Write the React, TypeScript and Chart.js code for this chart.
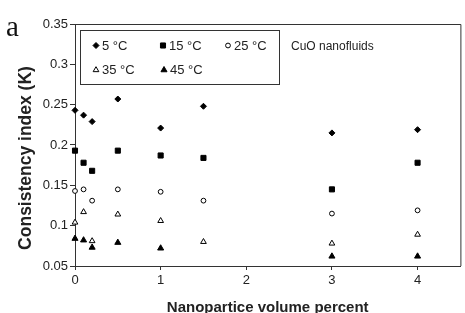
import React, { useEffect, useRef } from 'react';
import { Chart, registerables } from 'chart.js';
import { drawPoint } from 'chart.js/helpers';

Chart.register(...registerables);

const volumePercent = [0, 0.1, 0.2, 0.5, 1, 1.5, 3, 4];
const k5C = [0.243, 0.237, 0.229, 0.257, 0.221, 0.248, 0.215, 0.219];
const k15C = [0.193, 0.178, 0.168, 0.193, 0.187, 0.184, 0.145, 0.178];
const k25C = [0.143, 0.145, 0.131, 0.145, 0.142, 0.131, 0.115, 0.119];
const k35C = [0.104, 0.117, 0.081, 0.114, 0.106, 0.08, 0.078, 0.089];
const k45C = [0.084, 0.082, 0.073, 0.079, 0.072, null, 0.062, 0.062];
const seriesLabels = ['5 °C', '15 °C', '25 °C', '35 °C', '45 °C'];
const yTicks = [0.05, 0.1, 0.15, 0.2, 0.25, 0.3, 0.35];
const yTickLabels = ['0.05', '0.1', '0.15', '0.2', '0.25', '0.3', '0.35'];
const xTicks = [0, 1, 2, 3, 4];
const xTickLabels = ['0', '1', '2', '3', '4'];
const panelLetter = 'a';
const annotation = 'CuO nanofluids';
const xTitle = 'Nanopartice volume percent';
const yTitle = 'Consistency index (K)';

const seriesValues = [k5C, k15C, k25C, k35C, k45C];
const seriesStyles = [
  { pointStyle: 'rectRot', radius: 3, fill: '#000' },
  { pointStyle: 'rect', radius: 3.6, fill: '#000' },
  { pointStyle: 'circle', radius: 2.4, fill: '#fff' },
  { pointStyle: 'triangle', radius: 3.3, fill: '#fff' },
  { pointStyle: 'triangle', radius: 3.5, fill: '#000' },
];
// legend layout: [x of marker, row]
const legendSlots = [
  [96, 0],
  [163, 0],
  [228, 0],
  [96, 1],
  [164, 1],
];

const FONT = '"Liberation Sans", Arial, sans-serif';
const INK = '#222';

const decorPlugin = {
  id: 'decor',
  afterDraw(chart: any) {
    const { ctx, chartArea } = chart;
    ctx.save();
    // frame top & right
    ctx.strokeStyle = '#333';
    ctx.lineWidth = 1;
    ctx.beginPath();
    ctx.moveTo(chartArea.left, chartArea.top + 0.5);
    ctx.lineTo(chartArea.right + 0.5, chartArea.top + 0.5);
    ctx.lineTo(chartArea.right + 0.5, chartArea.bottom);
    ctx.stroke();

    // legend box
    ctx.strokeRect(80.5, 30.5, 199, 54);
    const rowsY = [45.5, 70];
    chart.data.datasets.forEach((ds: any, i: number) => {
      const [mx, row] = legendSlots[i];
      const y = rowsY[row];
      ctx.save();
      ctx.fillStyle = ds.pointBackgroundColor;
      ctx.strokeStyle = '#000';
      drawPoint(ctx, { pointStyle: ds.pointStyle, radius: ds.pointRadius, rotation: 0, borderWidth: 1 }, mx, y);
      ctx.restore();
      ctx.fillStyle = INK;
      ctx.font = `13px ${FONT}`;
      ctx.textAlign = 'left';
      ctx.textBaseline = 'middle';
      ctx.fillText(ds.label, mx + 6, y + 0.5);
    });

    ctx.fillStyle = INK;
    ctx.font = `12px ${FONT}`;
    ctx.textAlign = 'left';
    ctx.textBaseline = 'middle';
    ctx.fillText(annotation, 291, 46.5);

    // panel letter
    ctx.fillStyle = '#111';
    ctx.font = `29px "Liberation Serif", "Times New Roman", serif`;
    ctx.textBaseline = 'alphabetic';
    ctx.fillText(panelLetter, 6, 36);

    // axis titles
    ctx.fillStyle = INK;
    ctx.font = `bold 15px ${FONT}`;
    ctx.textAlign = 'center';
    ctx.fillText(xTitle, (chartArea.left + chartArea.right) / 2, 312);

    ctx.save();
    ctx.translate(31, 158);
    ctx.rotate(-Math.PI / 2);
    ctx.font = `bold 17.5px ${FONT}`;
    ctx.textAlign = 'center';
    ctx.textBaseline = 'alphabetic';
    ctx.fillText(yTitle, 0, 0);
    ctx.restore();
    ctx.restore();
  },
};

export default function App() {
  const canvasRef = useRef<HTMLCanvasElement | null>(null);

  useEffect(() => {
    if (!canvasRef.current) return;
    const datasets = seriesValues.map((vals, i) => ({
      label: seriesLabels[i],
      data: volumePercent
        .map((x, j) => ({ x, y: vals[j] }))
        .filter((p) => p.y !== null && p.y !== undefined),
      pointStyle: seriesStyles[i].pointStyle,
      pointRadius: seriesStyles[i].radius,
      pointHoverRadius: seriesStyles[i].radius,
      pointBackgroundColor: seriesStyles[i].fill,
      pointBorderColor: '#000',
      pointBorderWidth: 1,
      showLine: false,
      clip: false as any,
    }));

    const chart = new Chart(canvasRef.current, {
      type: 'scatter',
      data: { datasets },
      plugins: [decorPlugin],
      options: {
        animation: false,
        responsive: true,
        maintainAspectRatio: false,
        layout: { padding: { left: 0, top: 24, right: 2, bottom: 0 } },
        plugins: {
          legend: { display: false },
          tooltip: { enabled: false },
        },
        scales: {
          x: {
            type: 'linear',
            min: 0,
            max: 4.5,
            afterBuildTicks: (scale: any) => {
              scale.ticks = xTicks.map((v) => ({ value: v }));
            },
            afterFit: (scale: any) => {
              scale.height = 47;
            },
            ticks: {
              color: INK,
              font: { family: FONT, size: 13 },
              padding: 3,
              maxRotation: 0,
              callback: (v: any) => {
                const idx = xTicks.indexOf(Number(v));
                return idx >= 0 ? xTickLabels[idx] : '';
              },
            },
            grid: { display: true, drawOnChartArea: false, drawTicks: true, tickLength: 4, color: '#333' },
            border: { display: true, color: '#333', width: 1 },
          },
          y: {
            type: 'linear',
            min: 0.05,
            max: 0.35,
            afterBuildTicks: (scale: any) => {
              scale.ticks = yTicks.map((v) => ({ value: v }));
            },
            afterFit: (scale: any) => {
              scale.width = 75;
            },
            ticks: {
              color: INK,
              font: { family: FONT, size: 13 },
              padding: 2,
              callback: (v: any) => {
                const idx = yTicks.findIndex((t) => Math.abs(t - Number(v)) < 1e-9);
                return idx >= 0 ? yTickLabels[idx] : '';
              },
            },
            grid: { display: true, drawOnChartArea: false, drawTicks: true, tickLength: 5, color: '#333' },
            border: { display: true, color: '#333', width: 1 },
          },
        },
      },
    });
    return () => chart.destroy();
  }, []);

  return (
    <div style={{ position: 'absolute', left: 0, top: 0, width: 465, height: 313, background: '#fff' }}>
      <canvas ref={canvasRef} />
    </div>
  );
}
